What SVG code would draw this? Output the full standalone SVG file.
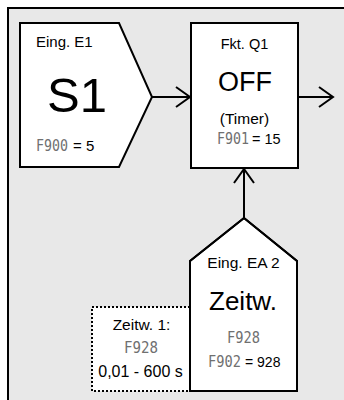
<svg xmlns="http://www.w3.org/2000/svg" width="344" height="400" viewBox="0 0 344 400">
<defs>
<style>
.node{fill:#fff;stroke:#000;stroke-width:2}
.t{font-family:"Liberation Sans",Arial,sans-serif;fill:#000}
.seg{font-family:"DejaVu Sans Mono","Liberation Mono",monospace;fill:#707070;font-size:15.5px}
.c{text-anchor:middle}
.edge{fill:none;stroke:#000;stroke-width:2;marker-end:url(#arr)}
</style>
<marker id="arr" markerUnits="userSpaceOnUse" markerWidth="20" markerHeight="24" viewBox="-16 -12 20 24" refX="0" refY="0" orient="auto">
<path d="M-14,-10 L0,0 L-14,10" fill="none" stroke="#000" stroke-width="2"/>
</marker>
</defs>
<rect x="0" y="0" width="344" height="400" fill="#fff"/>
<rect id="frame" x="8" y="8" width="400" height="420" fill="#e8e8e8" stroke="#000" stroke-width="2"/>
<g id="connectors">
<path class="edge" d="M152,97 L190,97"/>
<path class="edge" d="M298,97 L333,97"/>
<path class="edge" d="M244,218 L244,169"/>
</g>
<g id="E1">
<polygon class="node" points="20,23 119,23 152,97 119,167 20,167"/>
<text class="t" x="36" y="47" font-size="15">Eing. E1</text>
<text class="t c" x="77" y="112" font-size="49">S1</text>
<text class="seg" x="36" y="151" textLength="32" lengthAdjust="spacingAndGlyphs">F900</text>
<text class="t" x="73" y="151" font-size="15">= 5</text>
</g>
<g id="Q1">
<rect class="node" x="191" y="23" width="107" height="145"/>
<text class="t c" x="244.5" y="49" font-size="14.5">Fkt. Q1</text>
<text class="t c" x="245" y="91" font-size="27">OFF</text>
<text class="t c" x="244.5" y="124" font-size="15.5">(Timer)</text>
<text class="seg" x="217" y="144" textLength="32" lengthAdjust="spacingAndGlyphs">F901</text>
<text class="t" x="252" y="144" font-size="14.5">= 15</text>
</g>
<g id="EA2">
<polygon class="node" points="190,261 244,218 297,261 297,391 190,391"/>
<text class="t c" x="243.5" y="268" font-size="15.5">Eing. EA 2</text>
<text class="t c" x="243" y="310" font-size="26">Zeitw.</text>
<text class="seg" x="227" y="343" textLength="33" lengthAdjust="spacingAndGlyphs">F928</text>
<text class="seg" x="208" y="367" textLength="33" lengthAdjust="spacingAndGlyphs">F902</text>
<text class="t" x="245" y="367" font-size="14">= 928</text>
</g>
<g id="note">
<rect x="92" y="307" width="98" height="84" fill="#fff" stroke="#000" stroke-width="2" stroke-dasharray="2 2"/>
<text class="t c" x="141.5" y="330" font-size="15.5">Zeitw. 1:</text>
<text class="seg" x="124" y="353" textLength="34" lengthAdjust="spacingAndGlyphs">F928</text>
<text class="t c" x="140.5" y="377" font-size="16">0,01 - 600 s</text>
</g>
<polygon points="190,261 244,218 297,261 297,391 190,391" fill="none" stroke="#000" stroke-width="2"/>
</svg>
